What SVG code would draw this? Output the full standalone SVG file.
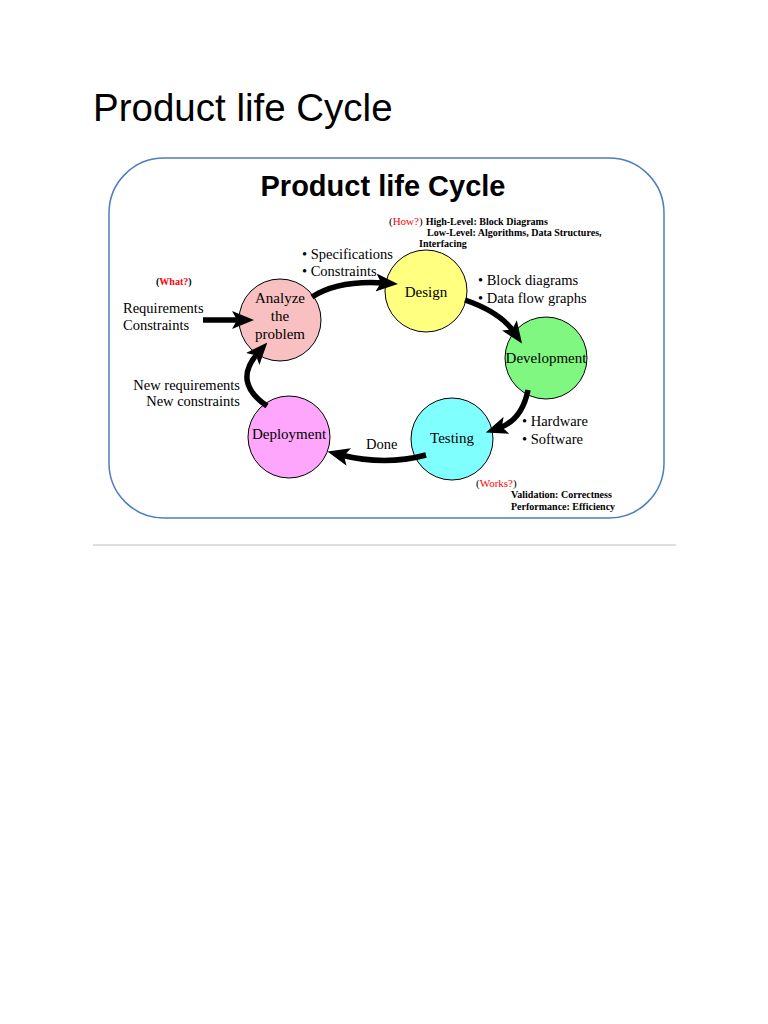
<svg xmlns="http://www.w3.org/2000/svg" width="768" height="1024" viewBox="0 0 768 1024">
<style>
.t{font-family:"Liberation Serif","Times New Roman",serif;fill:#000}
.m{font-size:14.5px}
.n{font-size:15px;text-anchor:middle}
.s{font-size:10px;font-weight:bold}
.r{fill:#ff0000}
.node{stroke:#000;stroke-width:1}
.c{fill:none;stroke:#000;stroke-width:5.5}
</style>
<defs>
<marker id="ah" viewBox="0 0 22 18" refX="8" refY="9" markerWidth="22" markerHeight="18" markerUnits="userSpaceOnUse" orient="auto">
<path d="M0,0 L22,9 L0,18 L5,9 Z" fill="#000"/>
</marker>
</defs>
<rect width="768" height="1024" fill="#fff"/>
<text x="93" y="121" font-family="Liberation Sans,Arial,sans-serif" font-size="38.5" fill="#000">Product life Cycle</text>
<rect x="109" y="158" width="555" height="360" rx="55" ry="55" fill="#fff" stroke="#4a7ebf" stroke-width="1.5"/>
<text x="383" y="196" font-family="Liberation Sans,Arial,sans-serif" font-size="29" font-weight="bold" text-anchor="middle" fill="#000">Product life Cycle</text>
<line x1="93" y1="545" x2="676" y2="545" stroke="#bdbdbd" stroke-width="1"/>

<g id="analyze">
<circle class="node" cx="280" cy="320" r="41" fill="#f8c0c0"/>
<text class="t n" x="280" y="303">Analyze</text>
<text class="t n" x="280" y="321">the</text>
<text class="t n" x="280" y="339">problem</text>
</g>
<g id="design">
<circle class="node" cx="426" cy="291" r="41" fill="#ffff80"/>
<text class="t n" x="426" y="297">Design</text>
</g>
<g id="development">
<circle class="node" cx="546" cy="358" r="41" fill="#80f780"/>
<text class="t n" x="546" y="363">Development</text>
</g>
<g id="testing">
<circle class="node" cx="452" cy="439" r="41" fill="#80ffff"/>
<text class="t n" x="452" y="443">Testing</text>
</g>
<g id="deployment">
<circle class="node" cx="289" cy="437" r="41" fill="#fda6fb"/>
<text class="t n" x="289" y="439">Deployment</text>
</g>

<g id="connectors">
<path class="c" d="M203,320 L240,320" marker-end="url(#ah)"/>
<path class="c" d="M312,297 Q338,280 384,283" marker-end="url(#ah)"/>
<path class="c" d="M465,300 Q500,312 514,332" marker-end="url(#ah)"/>
<path class="c" d="M528,390 Q522,420 499,428" marker-end="url(#ah)"/>
<path class="c" d="M426,455 Q385,466 341,455" marker-end="url(#ah)"/>
<path class="c" d="M267,406 Q232,382 258,353" marker-end="url(#ah)"/>
</g>

<g id="labels">
<text class="t" x="389" y="225" font-size="11"><tspan>(</tspan><tspan class="r">How?</tspan><tspan>)</tspan><tspan class="s" dx="3">High-Level: Block Diagrams</tspan></text>
<text class="t s" x="427" y="236">Low-Level: Algorithms, Data Structures,</text>
<text class="t s" x="419" y="247">Interfacing</text>
<text class="t m" x="302" y="259">• Specifications</text>
<text class="t m" x="302" y="276">• Constraints</text>
<text class="t" x="156" y="285" font-size="10" font-weight="bold"><tspan>(</tspan><tspan class="r">What?</tspan><tspan>)</tspan></text>
<text class="t m" x="123" y="313">Requirements</text>
<text class="t m" x="123" y="330">Constraints</text>
<text class="t m" x="478" y="285">• Block diagrams</text>
<text class="t m" x="478" y="303">• Data flow graphs</text>
<text class="t m" x="240" y="390" text-anchor="end">New requirements</text>
<text class="t m" x="240" y="406" text-anchor="end">New constraints</text>
<text class="t m" x="522" y="426">• Hardware</text>
<text class="t m" x="522" y="444">• Software</text>
<text class="t m" x="366" y="449">Done</text>
<text class="t" x="476" y="487" font-size="11"><tspan>(</tspan><tspan class="r">Works?</tspan><tspan>)</tspan></text>
<text class="t s" x="511" y="498">Validation: Correctness</text>
<text class="t s" x="511" y="510">Performance: Efficiency</text>
</g>
</svg>
